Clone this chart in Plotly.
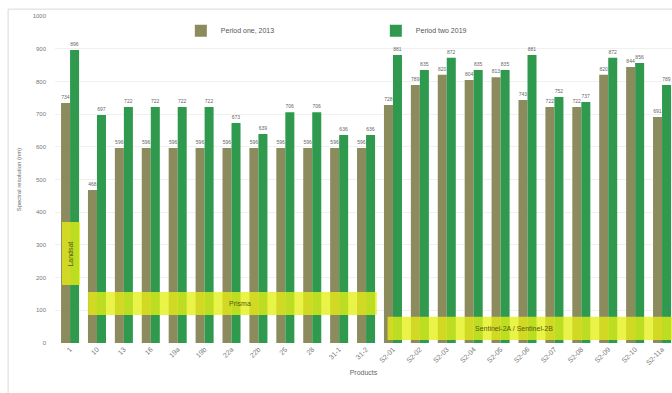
import plotly.graph_objects as go

categories = ["1", "10", "13", "16", "19a", "19b", "22a", "22b", "25", "28", "31-1", "31-2",
              "S2-01", "S2-02", "S2-03", "S2-04", "S2-05", "S2-06", "S2-07", "S2-08", "S2-09", "S2-10", "S2-11a"]
period_one = [734, 468, 596, 596, 596, 596, 596, 596, 596, 596, 596, 596,
              728, 789, 820, 804, 813, 743, 722, 722, 820, 844, 691]
period_two = [896, 697, 722, 722, 722, 722, 673, 639, 706, 706, 636, 636,
              881, 835, 872, 835, 835, 881, 752, 737, 872, 856, 789]
series_names = ["Period one, 2013", "Period two 2019"]
y_ticks = list(range(0, 1001, 100))
box_labels = ["Landsat", "Prisma", "Sentinel-2A / Sentinel-2B"]

fig = go.Figure()
fig.add_trace(go.Bar(x=list(range(len(categories))), y=period_one, name=series_names[0],
                     marker=dict(color="#8c8b5e", line=dict(width=0)),
                     text=[str(v) for v in period_one], textposition="outside",
                     textfont=dict(size=5, color="#666666"), cliponaxis=False))
fig.add_trace(go.Bar(x=list(range(len(categories))), y=period_two, name=series_names[1],
                     marker=dict(color="#2f9a4e", line=dict(width=0)),
                     text=[str(v) for v in period_two], textposition="outside",
                     textfont=dict(size=5, color="#666666"), cliponaxis=False))

# highlight boxes (category index spans, value spans)
boxes = [(-0.3, 0.37, 177, 370), (0.67, 11.4, 86, 156), (11.8, 22.6, 9, 80)]
for (x0, x1, y0, y1) in boxes:
    fig.add_shape(type="rect", xref="x", yref="y", x0=x0, x1=x1, y0=y0, y1=y1,
                  fillcolor="rgba(228,240,20,0.78)", line=dict(width=0), layer="above")
fig.add_annotation(x=0.03, y=273, xref="x", yref="y", text=box_labels[0], textangle=-90,
                   showarrow=False, font=dict(size=7, color="#5a5a10"))
fig.add_annotation(x=6.3, y=121, xref="x", yref="y", text=box_labels[1],
                   showarrow=False, font=dict(size=7, color="#5a5a10"))
fig.add_annotation(x=16.5, y=44, xref="x", yref="y", text=box_labels[2],
                   showarrow=False, font=dict(size=7, color="#5a5a10"))

# outer chart border
fig.add_shape(type="rect", xref="paper", yref="paper", x0=-0.076, x1=1.2, y0=-0.3, y1=1.021,
              line=dict(color="#d9d9d9", width=1), fillcolor="rgba(0,0,0,0)", layer="below")

fig.update_layout(
    width=672, height=393,
    margin=dict(l=55, r=0, t=16, b=50),
    paper_bgcolor="white", plot_bgcolor="white",
    barmode="group", bargap=0.33, bargroupgap=0.0,
    font=dict(family="Liberation Sans", size=7, color="#666666"),
    showlegend=True,
    legend=dict(orientation="h", x=0.52, xanchor="center", y=0.955, yanchor="middle",
                entrywidth=150, itemwidth=30, font=dict(size=7, color="#555555"),
                bgcolor="rgba(0,0,0,0)"),
    xaxis=dict(tickmode="array", tickvals=list(range(len(categories))), ticktext=categories,
               tickangle=-45, range=[-0.56, 22.37], showgrid=False, showline=False, ticks="",
               title=dict(text="Products", font=dict(size=7, color="#666666"), standoff=4),
               tickfont=dict(size=7, color="#777777")),
    yaxis=dict(range=[0, 1000], tickvals=y_ticks, showgrid=True, gridcolor="#f0f0f0",
               zeroline=False, showline=False, ticks="", ticklabelstandoff=8,
               tickfont=dict(size=6, color="#777777"),
               title=dict(text="Spectral resolution (nm)", font=dict(size=6, color="#666666"),
                          standoff=10)),
)

fig.write_html("out.html")
